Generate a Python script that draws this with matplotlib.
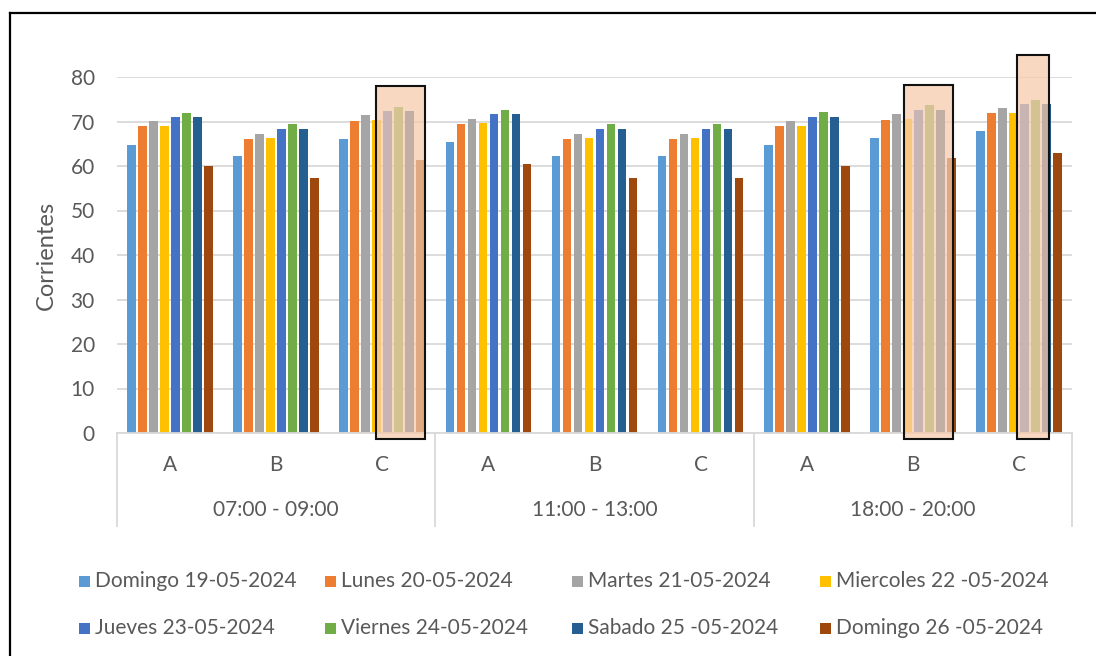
import matplotlib
matplotlib.use("Agg")
import matplotlib.pyplot as plt
from matplotlib.patches import Rectangle
from matplotlib.lines import Line2D

plt.rcParams['font.family'] = ['Lato', 'DejaVu Sans']

# Data
time_slots = ['07:00 - 09:00', '11:00 - 13:00', '18:00 - 20:00']
sub_cats = ['A', 'B', 'C']

series_names = [
    'Domingo 19-05-2024', 'Lunes 20-05-2024', 'Martes 21-05-2024', 'Miercoles 22 -05-2024',
    'Jueves 23-05-2024', 'Viernes 24-05-2024', 'Sabado 25 -05-2024', 'Domingo 26 -05-2024',
]
domingo_19 = [64.8, 62.2, 66.1, 65.5, 62.2, 62.2, 64.8, 66.4, 67.8]
lunes_20 = [68.9, 66.1, 70.2, 69.4, 66.1, 66.1, 68.9, 70.4, 71.8]
martes_21 = [70.1, 67.3, 71.4, 70.6, 67.3, 67.3, 70.1, 71.6, 73.0]
miercoles_22 = [69.1, 66.4, 70.3, 69.7, 66.4, 66.4, 69.0, 70.6, 72.0]
jueves_23 = [71.0, 68.4, 72.4, 71.6, 68.4, 68.4, 71.0, 72.6, 73.9]
viernes_24 = [72.0, 69.4, 73.3, 72.6, 69.4, 69.4, 72.1, 73.6, 74.9]
sabado_25 = [71.0, 68.4, 72.4, 71.6, 68.4, 68.4, 71.0, 72.6, 73.9]
domingo_26 = [60.1, 57.4, 61.3, 60.4, 57.4, 57.4, 60.0, 61.7, 63.0]
series_values = [domingo_19, lunes_20, martes_21, miercoles_22,
                 jueves_23, viernes_24, sabado_25, domingo_26]

colors = ['#5B9BD5', '#ED7D31', '#A5A5A5', '#FFC000',
          '#4472C4', '#70AD47', '#255E91', '#9E480E']

# Highlighted zones: (category index, left offset, right offset, top)
highlights = [(2, -0.059, 0.403, 77.9), (7, -0.083, 0.376, 78.1), (8, -0.017, 0.287, 84.9)]

TEXT = '#595959'
GRID = '#D9D9D9'
W, H = 1096, 656

fig = plt.figure(figsize=(W / 100, H / 100), dpi=100)
ax = fig.add_axes([117 / W, 1 - 433 / H, (1072 - 117) / W, (433 - 77) / H])

n_cat = len(time_slots) * len(sub_cats)
pitch = 0.1037
bar_w = 0.082
for j, (vals, col) in enumerate(zip(series_values, colors)):
    xs = [i + 0.5 + (j - 3.5) * pitch for i in range(n_cat)]
    ax.bar(xs, vals, width=bar_w, color=col, zorder=2)

ax.set_xlim(0, n_cat)
ax.set_ylim(0, 80)
ax.set_yticks(range(0, 81, 10))
ax.yaxis.grid(True, color=GRID, linewidth=1.3, zorder=0)
ax.set_axisbelow(True)
ax.tick_params(axis='y', length=0, pad=16, labelsize=15, labelcolor=TEXT)
ax.set_xticks([])
for s in ['top', 'right', 'left']:
    ax.spines[s].set_visible(False)
ax.spines['bottom'].set_color(GRID)
ax.spines['bottom'].set_linewidth(1.3)

fig.text(46 / W, 1 - 255 / H, 'Corrientes', rotation=90, ha='center', va='center',
         fontsize=17, color=TEXT)

# Two-level category axis
xt = ax.get_xaxis_transform()
for g, slot in enumerate(time_slots):
    for k, sc in enumerate(sub_cats):
        ax.text(g * 3 + k + 0.5, -0.09, sc, transform=xt, ha='center', va='center',
                fontsize=15, color=TEXT)
    ax.text(g * 3 + 1.5, -0.216, slot, transform=xt, ha='center', va='center',
            fontsize=15, color=TEXT)
for xb in range(0, n_cat + 1, 3):
    ax.add_line(Line2D([xb, xb], [0, -0.261], transform=xt, color=GRID,
                       linewidth=1.3, clip_on=False))

# Highlight boxes
for ci, x0, x1, top in highlights:
    ax.add_patch(Rectangle((ci + 0.5 + x0, -1.4), x1 - x0, top + 1.4,
                           facecolor=(246 / 255, 203 / 255, 172 / 255), alpha=0.75,
                           edgecolor='none', zorder=3, clip_on=False))
    ax.add_patch(Rectangle((ci + 0.5 + x0, -1.4), x1 - x0, top + 1.4,
                           facecolor='none', edgecolor='#111111', linewidth=1.5,
                           zorder=4, clip_on=False))

# Legend laid out in four equal columns
col_x = [84, 330, 577, 825]
row_y = [581, 628]
sq = 11
for idx, (name, col) in enumerate(zip(series_names, colors)):
    r, c = divmod(idx, 4)
    x, y = col_x[c], row_y[r]
    fig.patches.append(Rectangle(((x - sq / 2) / W, 1 - (y + sq / 2) / H), sq / W, sq / H,
                                 transform=fig.transFigure, facecolor=col, edgecolor='none'))
    fig.text((x + 11) / W, 1 - y / H, name, ha='left', va='center',
             fontsize=15, color=TEXT)

# Chart frame
fig.add_artist(Line2D([9.5 / W, 9.5 / W], [0, 1 - 12.5 / H], transform=fig.transFigure,
                      color='black', linewidth=1.6))
fig.add_artist(Line2D([9.5 / W, 1], [1 - 12.5 / H, 1 - 12.5 / H], transform=fig.transFigure,
                      color='black', linewidth=1.6))

fig.savefig('out.png', dpi=100)
